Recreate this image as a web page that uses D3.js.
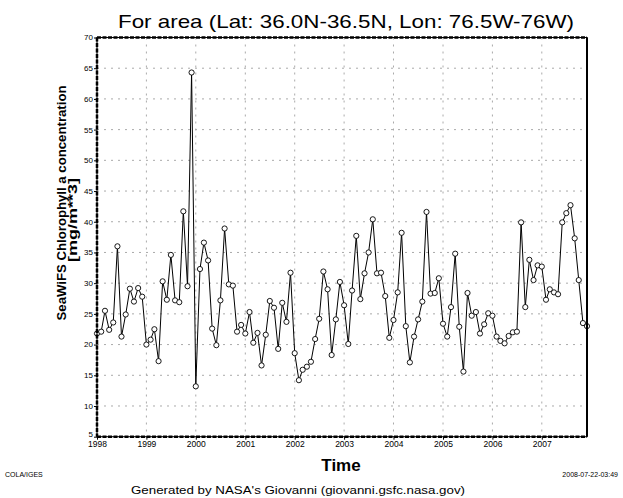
<!DOCTYPE html>
<html>
<head>
<meta charset="utf-8">
<script src="https://cdn.jsdelivr.net/npm/d3@7"></script>
<style>
  body { margin: 0; background: #fff; }
  svg { display: block; }
  text { font-family: "Liberation Sans", "DejaVu Sans", sans-serif; fill: #000; }
</style>
</head>
<body>
<svg id="chart" width="623" height="498"></svg>
<script>
// monthly SeaWiFS chlorophyll values, Jan 1998 .. Dec 2007
const startMonth = new Date(1998, 0, 1);
const chlorophyll = [
  21.8, 22.1, 25.5, 22.4, 23.6, 36.0, 21.3, 24.9, 29.1, 27.0, 29.2, 27.8,
  20.0, 20.8, 22.5, 17.3, 30.3, 27.3, 34.6, 27.2, 26.9, 41.7, 29.5, 64.3,
  13.2, 32.3, 36.6, 33.7, 22.6, 19.9, 27.2, 38.9, 29.8, 29.6, 22.1, 23.2,
  21.8, 25.3, 20.3, 21.9, 16.6, 21.6, 27.1, 26.0, 19.3, 26.8, 23.7, 31.7,
  18.6, 14.2, 15.9, 16.4, 17.2, 20.9, 24.2, 31.9, 29.0, 18.3, 24.1, 30.2,
  26.4, 20.1, 28.8, 37.7, 27.4, 31.6, 35.0, 40.4, 31.6, 31.7, 27.9, 21.1,
  24.0, 28.5, 38.2, 23.0, 17.1, 21.3, 24.1, 27.0, 41.6, 28.3, 28.4, 30.8,
  23.4, 21.3, 26.1, 34.8, 22.9, 15.6, 28.4, 24.7, 25.3, 21.8, 23.3, 25.1,
  24.7, 21.3, 20.6, 20.2, 21.4, 22.0, 22.1, 39.9, 26.1, 33.8, 30.5, 32.9,
  32.7, 27.3, 29.0, 28.5, 28.2, 39.9, 41.4, 42.7, 37.3, 30.5, 23.5, 23.0
];
const yTicks = [5, 10, 15, 20, 25, 30, 35, 40, 45, 50, 55, 60, 65, 70];
const yearTicks = ["1998", "1999", "2000", "2001", "2002", "2003", "2004", "2005", "2006", "2007"];

const titleText = "For area (Lat: 36.0N-36.5N, Lon: 76.5W-76W)";
const yLabel1 = "SeaWiFS Chlorophyll a concentration";
const yLabel2 = "[mg/m**3]";

const svg = d3.select("#chart");
const pLeft = 97, pRight = 587, pTop = 37.5, pBottom = 436.7;

const data = chlorophyll.map((v, i) => ({date: d3.timeMonth.offset(startMonth, i), value: v}));

const x = d3.scaleTime()
  .domain([data[0].date, data[data.length - 1].date])
  .range([pLeft, pRight]);
const y = d3.scaleLinear().domain([5, 70]).range([pBottom, pTop]);

const yearDates = yearTicks.map(s => new Date(+s, 0, 1));

// dotted grid
const grid = svg.append("g")
  .attr("stroke", "#aaa")
  .attr("stroke-width", 1)
  .attr("stroke-dasharray", "2,5");
grid.selectAll(".hg").data(yTicks.slice(1, -1)).enter()
  .append("line")
  .attr("x1", pLeft).attr("x2", pRight)
  .attr("y1", d => y(d)).attr("y2", d => y(d));
grid.selectAll(".vg").data(yearDates.slice(1)).enter()
  .append("line")
  .attr("x1", d => x(d)).attr("x2", d => x(d))
  .attr("y1", pTop).attr("y2", pBottom);

// series line + hollow markers
const line = d3.line().x(d => x(d.date)).y(d => y(d.value));
svg.append("path")
  .datum(data)
  .attr("fill", "none")
  .attr("stroke", "#000")
  .attr("stroke-width", 1)
  .attr("d", line);
svg.selectAll("circle").data(data).enter()
  .append("circle")
  .attr("cx", d => x(d.date))
  .attr("cy", d => y(d.value))
  .attr("r", 2.6)
  .attr("fill", "#fff")
  .attr("stroke", "#000")
  .attr("stroke-width", 0.9);

// frame
svg.append("rect")
  .attr("x", pLeft).attr("y", pTop)
  .attr("width", pRight - pLeft).attr("height", pBottom - pTop)
  .attr("fill", "none").attr("stroke", "#000").attr("stroke-width", 1);
const frame = svg.append("g")
  .attr("stroke", "#000")
  .attr("stroke-width", 2.5)
  .attr("stroke-dasharray", "4,1.5");
frame.append("line").attr("x1", pLeft).attr("x2", pRight).attr("y1", pTop).attr("y2", pTop);
frame.append("line").attr("x1", pLeft).attr("x2", pRight).attr("y1", pBottom).attr("y2", pBottom);
frame.append("line").attr("x1", pLeft).attr("x2", pLeft).attr("y1", pTop).attr("y2", pBottom);
svg.append("line")
  .attr("x1", pRight).attr("x2", pRight).attr("y1", pTop).attr("y2", pBottom)
  .attr("stroke", "#000").attr("stroke-width", 2);

// axes
const yAxis = svg.append("g")
  .attr("transform", "translate(" + pLeft + ",0)")
  .call(d3.axisLeft(y).tickValues(yTicks).tickSize(3).tickPadding(1));
yAxis.select(".domain").remove();
yAxis.selectAll("text")
  .attr("font-size", 8)
  .attr("fill", "#333")
  .attr("dy", d => d === 5 ? "-0.05em" : "0.3em");

const xAxis = svg.append("g")
  .attr("transform", "translate(0," + pBottom + ")")
  .call(d3.axisBottom(x).tickValues(yearDates).tickSize(3).tickFormat(d3.timeFormat("%Y")).tickPadding(1.5));
xAxis.select(".domain").remove();
xAxis.selectAll("text").attr("font-size", 8.5).attr("fill", "#333");

// titles
svg.append("text")
  .attr("x", 346).attr("y", 28)
  .attr("text-anchor", "middle")
  .attr("font-size", 19)
  .attr("textLength", 456)
  .attr("lengthAdjust", "spacingAndGlyphs")
  .text(titleText);

svg.append("text")
  .attr("transform", "translate(66,203) rotate(-90)")
  .attr("text-anchor", "middle")
  .attr("font-size", 12)
  .attr("font-weight", "bold")
  .attr("textLength", 235)
  .attr("lengthAdjust", "spacingAndGlyphs")
  .text(yLabel1);
svg.append("text")
  .attr("transform", "translate(77,220) rotate(-90)")
  .attr("text-anchor", "middle")
  .attr("font-size", 12)
  .attr("font-weight", "bold")
  .attr("textLength", 84)
  .attr("lengthAdjust", "spacingAndGlyphs")
  .text(yLabel2);

svg.append("text")
  .attr("x", 341).attr("y", 471)
  .attr("text-anchor", "middle")
  .attr("font-size", 17)
  .attr("font-weight", "bold")
  .text("Time");

svg.append("text")
  .attr("x", 5).attr("y", 477)
  .attr("font-size", 7)
  .text("COLA/IGES");
svg.append("text")
  .attr("x", 618).attr("y", 477)
  .attr("text-anchor", "end")
  .attr("font-size", 7)
  .text("2008-07-22-03:49");
svg.append("text")
  .attr("x", 298).attr("y", 494)
  .attr("text-anchor", "middle")
  .attr("font-size", 10)
  .attr("textLength", 334)
  .attr("lengthAdjust", "spacingAndGlyphs")
  .text("Generated by NASA's Giovanni (giovanni.gsfc.nasa.gov)");
</script>
</body>
</html>
